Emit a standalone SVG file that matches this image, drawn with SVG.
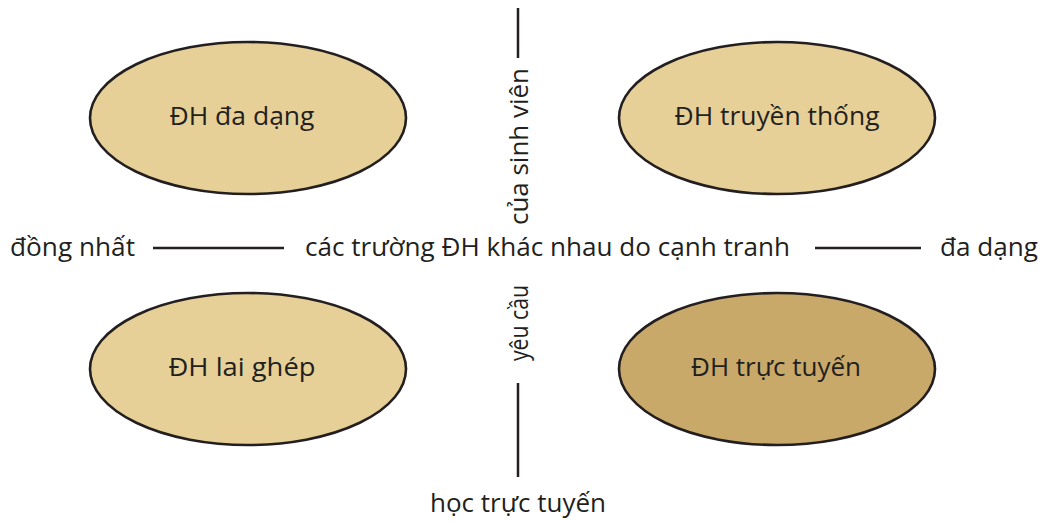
<svg xmlns="http://www.w3.org/2000/svg" width="1044" height="522" viewBox="0 0 1044 522">
  <style>
    .lbl { font-family: "Open Sans", "Noto Sans", "Liberation Sans", sans-serif; font-size: 26px; fill: #231F20; }
    .mid { text-anchor: middle; }
    .oval { stroke: #231F20; stroke-width: 2.6; }
    .light { fill: #E6D097; }
    .dark { fill: #C8A96A; }
    .rule { stroke: #231F20; stroke-width: 2.5; fill: none; }
  </style>
  <rect width="1044" height="522" fill="#FFFFFF"/>

  <!-- axes -->
  <g id="connectors">
    <line class="rule" x1="518" y1="8" x2="518" y2="58"/>
    <line class="rule" x1="518" y1="383" x2="518" y2="477"/>
    <line class="rule" x1="153" y1="248" x2="284" y2="248"/>
    <line class="rule" x1="815" y1="248" x2="921" y2="248"/>
  </g>

  <!-- axis labels -->
  <g id="axis-labels">
    <text class="lbl" x="10" y="256" textLength="125" lengthAdjust="spacingAndGlyphs">đồng nhất</text>
    <text class="lbl" x="305" y="256" textLength="485" lengthAdjust="spacingAndGlyphs">các trường ĐH khác nhau do cạnh tranh</text>
    <text class="lbl" x="940" y="256" textLength="98" lengthAdjust="spacingAndGlyphs">đa dạng</text>
    <text class="lbl mid" x="518" y="512" textLength="176" lengthAdjust="spacingAndGlyphs">học trực tuyến</text>
    <text class="lbl" transform="translate(528 225) rotate(-90)" textLength="157" lengthAdjust="spacingAndGlyphs">của sinh viên</text>
    <text class="lbl" transform="translate(528 361) rotate(-90)" textLength="76" lengthAdjust="spacingAndGlyphs">yêu cầu</text>
  </g>

  <g id="dh-da-dang">
    <ellipse class="oval light" cx="248" cy="118" rx="158" ry="76"/>
    <text class="lbl mid" x="242" y="125" textLength="145" lengthAdjust="spacingAndGlyphs">ĐH đa dạng</text>
  </g>
  <g id="dh-truyen-thong">
    <ellipse class="oval light" cx="777" cy="118" rx="158" ry="76"/>
    <text class="lbl mid" x="777" y="125" textLength="205" lengthAdjust="spacingAndGlyphs">ĐH truyền thống</text>
  </g>
  <g id="dh-lai-ghep">
    <ellipse class="oval light" cx="248" cy="369" rx="158" ry="76"/>
    <text class="lbl mid" x="242" y="376" textLength="147" lengthAdjust="spacingAndGlyphs">ĐH lai ghép</text>
  </g>
  <g id="dh-truc-tuyen">
    <ellipse class="oval dark" cx="777" cy="369" rx="158" ry="76"/>
    <text class="lbl mid" x="776" y="376" textLength="170" lengthAdjust="spacingAndGlyphs">ĐH trực tuyến</text>
  </g>
</svg>
